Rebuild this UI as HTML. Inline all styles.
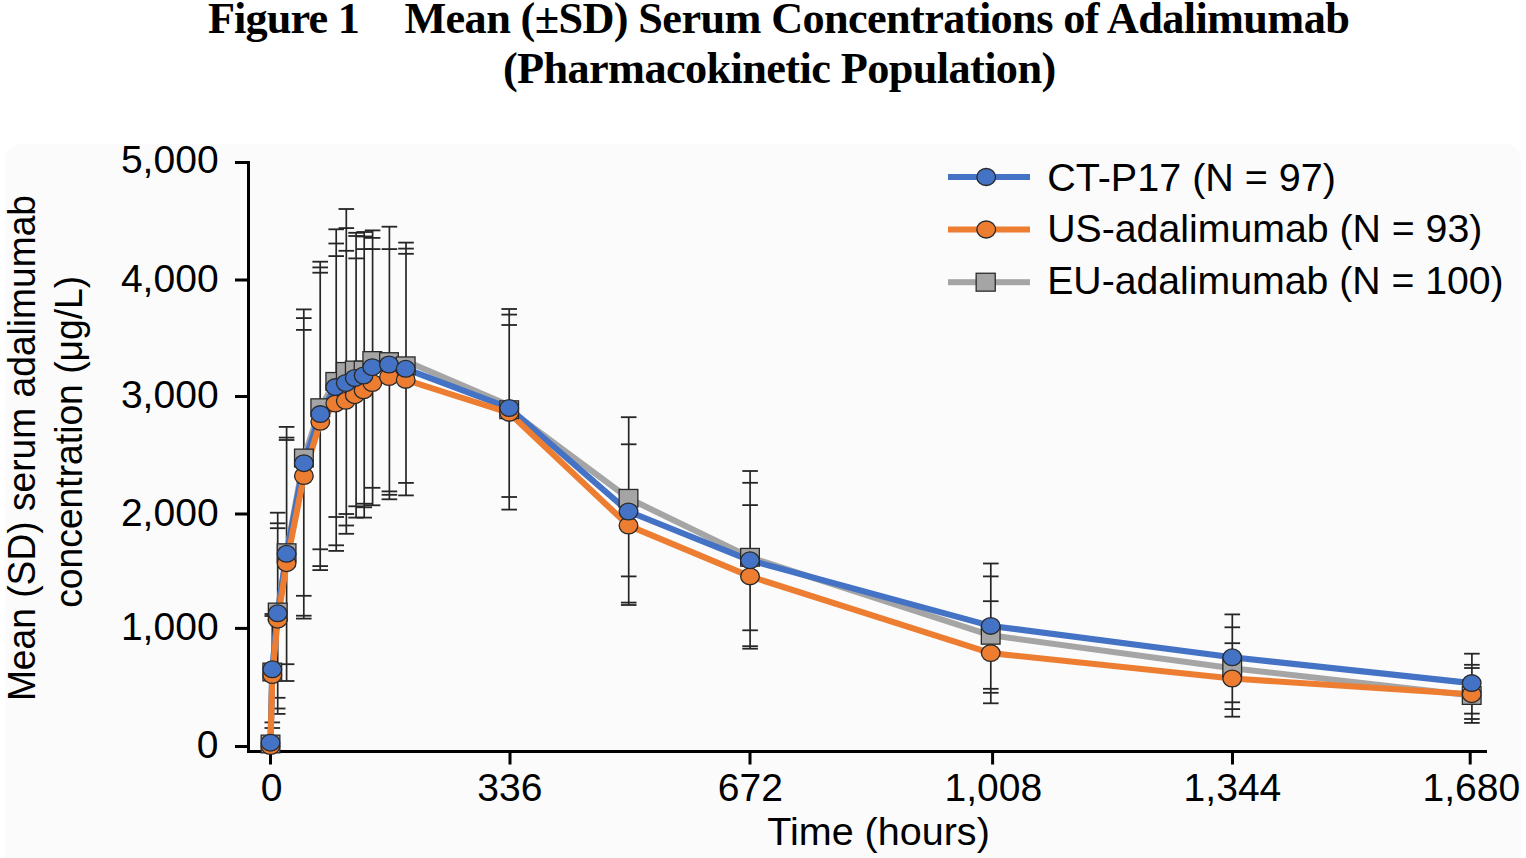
<!DOCTYPE html>
<html><head><meta charset="utf-8"><style>
html,body{margin:0;padding:0;background:#fff;width:1526px;height:858px;overflow:hidden}
svg{display:block}
text{fill:#000}
</style></head><body>
<svg width="1526" height="858" viewBox="0 0 1526 858">
<rect x="5" y="144" width="1516" height="760" rx="16" ry="16" fill="#fbfbfb"/>
<rect x="247" y="161" width="3" height="592" fill="#000"/>
<rect x="247" y="750" width="1240" height="3" fill="#000"/>
<rect x="235" y="161" width="13" height="3" fill="#000"/>
<rect x="235" y="278.5" width="13" height="3" fill="#000"/>
<rect x="235" y="395" width="13" height="3" fill="#000"/>
<rect x="235" y="512.5" width="13" height="3" fill="#000"/>
<rect x="235" y="626.9" width="13" height="3" fill="#000"/>
<rect x="235" y="745" width="13" height="3" fill="#000"/>
<rect x="269" y="752" width="3" height="12.5" fill="#000"/>
<rect x="508.5" y="752" width="3" height="12.5" fill="#000"/>
<rect x="748.5" y="752" width="3" height="12.5" fill="#000"/>
<rect x="991.1" y="752" width="3" height="12.5" fill="#000"/>
<rect x="1231" y="752" width="3" height="12.5" fill="#000"/>
<rect x="1468.7" y="752" width="3" height="12.5" fill="#000"/>
<rect x="271.45" y="614" width="1.7" height="114" fill="#262626"/>
<rect x="264.5" y="613.1" width="15.6" height="1.8" fill="#262626"/>
<rect x="264.5" y="615.1" width="15.6" height="1.8" fill="#262626"/>
<rect x="264.5" y="721.5" width="15.6" height="1.8" fill="#262626"/>
<rect x="264.5" y="727.1" width="15.6" height="1.8" fill="#262626"/>
<rect x="276.85" y="512.7" width="1.7" height="201.2" fill="#262626"/>
<rect x="269.9" y="511.8" width="15.6" height="1.8" fill="#262626"/>
<rect x="269.9" y="522.4" width="15.6" height="1.8" fill="#262626"/>
<rect x="269.9" y="527.3" width="15.6" height="1.8" fill="#262626"/>
<rect x="269.9" y="696.9" width="15.6" height="1.8" fill="#262626"/>
<rect x="269.9" y="707.6" width="15.6" height="1.8" fill="#262626"/>
<rect x="269.9" y="713" width="15.6" height="1.8" fill="#262626"/>
<rect x="285.75" y="426.9" width="1.7" height="254.1" fill="#262626"/>
<rect x="278.8" y="426" width="15.6" height="1.8" fill="#262626"/>
<rect x="278.8" y="436.7" width="15.6" height="1.8" fill="#262626"/>
<rect x="278.8" y="439.1" width="15.6" height="1.8" fill="#262626"/>
<rect x="278.8" y="663.3" width="15.6" height="1.8" fill="#262626"/>
<rect x="278.8" y="680.1" width="15.6" height="1.8" fill="#262626"/>
<rect x="302.95" y="309.4" width="1.7" height="309.2" fill="#262626"/>
<rect x="296" y="308.5" width="15.6" height="1.8" fill="#262626"/>
<rect x="296" y="317.2" width="15.6" height="1.8" fill="#262626"/>
<rect x="296" y="329" width="15.6" height="1.8" fill="#262626"/>
<rect x="296" y="594.9" width="15.6" height="1.8" fill="#262626"/>
<rect x="296" y="614.8" width="15.6" height="1.8" fill="#262626"/>
<rect x="296" y="617.7" width="15.6" height="1.8" fill="#262626"/>
<rect x="319.35" y="261.7" width="1.7" height="308.4" fill="#262626"/>
<rect x="312.4" y="260.8" width="15.6" height="1.8" fill="#262626"/>
<rect x="312.4" y="266.5" width="15.6" height="1.8" fill="#262626"/>
<rect x="312.4" y="271.8" width="15.6" height="1.8" fill="#262626"/>
<rect x="312.4" y="548.4" width="15.6" height="1.8" fill="#262626"/>
<rect x="312.4" y="565.2" width="15.6" height="1.8" fill="#262626"/>
<rect x="312.4" y="569.2" width="15.6" height="1.8" fill="#262626"/>
<rect x="335.35" y="229.3" width="1.7" height="321.6" fill="#262626"/>
<rect x="328.4" y="228.4" width="15.6" height="1.8" fill="#262626"/>
<rect x="328.4" y="242.6" width="15.6" height="1.8" fill="#262626"/>
<rect x="328.4" y="255.2" width="15.6" height="1.8" fill="#262626"/>
<rect x="328.4" y="516.1" width="15.6" height="1.8" fill="#262626"/>
<rect x="328.4" y="544.4" width="15.6" height="1.8" fill="#262626"/>
<rect x="328.4" y="550" width="15.6" height="1.8" fill="#262626"/>
<rect x="345.45" y="209" width="1.7" height="324.8" fill="#262626"/>
<rect x="338.5" y="208.1" width="15.6" height="1.8" fill="#262626"/>
<rect x="338.5" y="227.2" width="15.6" height="1.8" fill="#262626"/>
<rect x="338.5" y="249.9" width="15.6" height="1.8" fill="#262626"/>
<rect x="338.5" y="513.1" width="15.6" height="1.8" fill="#262626"/>
<rect x="338.5" y="524.6" width="15.6" height="1.8" fill="#262626"/>
<rect x="338.5" y="532.9" width="15.6" height="1.8" fill="#262626"/>
<rect x="355.25" y="232.8" width="1.7" height="284.8" fill="#262626"/>
<rect x="348.3" y="231.9" width="15.6" height="1.8" fill="#262626"/>
<rect x="348.3" y="235.1" width="15.6" height="1.8" fill="#262626"/>
<rect x="348.3" y="257.5" width="15.6" height="1.8" fill="#262626"/>
<rect x="348.3" y="505.4" width="15.6" height="1.8" fill="#262626"/>
<rect x="348.3" y="516.7" width="15.6" height="1.8" fill="#262626"/>
<rect x="363.35" y="232" width="1.7" height="285.6" fill="#262626"/>
<rect x="356.4" y="231.1" width="15.6" height="1.8" fill="#262626"/>
<rect x="356.4" y="235.6" width="15.6" height="1.8" fill="#262626"/>
<rect x="356.4" y="248.2" width="15.6" height="1.8" fill="#262626"/>
<rect x="356.4" y="502.8" width="15.6" height="1.8" fill="#262626"/>
<rect x="356.4" y="506.4" width="15.6" height="1.8" fill="#262626"/>
<rect x="356.4" y="516.7" width="15.6" height="1.8" fill="#262626"/>
<rect x="371.75" y="230.4" width="1.7" height="274.9" fill="#262626"/>
<rect x="364.8" y="229.5" width="15.6" height="1.8" fill="#262626"/>
<rect x="364.8" y="237" width="15.6" height="1.8" fill="#262626"/>
<rect x="364.8" y="248.2" width="15.6" height="1.8" fill="#262626"/>
<rect x="364.8" y="486.9" width="15.6" height="1.8" fill="#262626"/>
<rect x="364.8" y="504.4" width="15.6" height="1.8" fill="#262626"/>
<rect x="388.55" y="226.7" width="1.7" height="272.6" fill="#262626"/>
<rect x="381.6" y="225.8" width="15.6" height="1.8" fill="#262626"/>
<rect x="381.6" y="248.2" width="15.6" height="1.8" fill="#262626"/>
<rect x="381.6" y="490.5" width="15.6" height="1.8" fill="#262626"/>
<rect x="381.6" y="493.9" width="15.6" height="1.8" fill="#262626"/>
<rect x="381.6" y="498.4" width="15.6" height="1.8" fill="#262626"/>
<rect x="405.15" y="242.6" width="1.7" height="252.8" fill="#262626"/>
<rect x="398.2" y="241.7" width="15.6" height="1.8" fill="#262626"/>
<rect x="398.2" y="247.7" width="15.6" height="1.8" fill="#262626"/>
<rect x="398.2" y="252.9" width="15.6" height="1.8" fill="#262626"/>
<rect x="398.2" y="482" width="15.6" height="1.8" fill="#262626"/>
<rect x="398.2" y="494.5" width="15.6" height="1.8" fill="#262626"/>
<rect x="508.35" y="309" width="1.7" height="200.6" fill="#262626"/>
<rect x="501.4" y="308.1" width="15.6" height="1.8" fill="#262626"/>
<rect x="501.4" y="313.7" width="15.6" height="1.8" fill="#262626"/>
<rect x="501.4" y="324.1" width="15.6" height="1.8" fill="#262626"/>
<rect x="501.4" y="496.1" width="15.6" height="1.8" fill="#262626"/>
<rect x="501.4" y="508.7" width="15.6" height="1.8" fill="#262626"/>
<rect x="627.85" y="417.2" width="1.7" height="187.8" fill="#262626"/>
<rect x="620.9" y="416.3" width="15.6" height="1.8" fill="#262626"/>
<rect x="620.9" y="443.4" width="15.6" height="1.8" fill="#262626"/>
<rect x="620.9" y="575.5" width="15.6" height="1.8" fill="#262626"/>
<rect x="620.9" y="601.7" width="15.6" height="1.8" fill="#262626"/>
<rect x="620.9" y="604.1" width="15.6" height="1.8" fill="#262626"/>
<rect x="749.25" y="471" width="1.7" height="177.7" fill="#262626"/>
<rect x="742.3" y="470.1" width="15.6" height="1.8" fill="#262626"/>
<rect x="742.3" y="481.9" width="15.6" height="1.8" fill="#262626"/>
<rect x="742.3" y="504.2" width="15.6" height="1.8" fill="#262626"/>
<rect x="742.3" y="629.4" width="15.6" height="1.8" fill="#262626"/>
<rect x="742.3" y="645.3" width="15.6" height="1.8" fill="#262626"/>
<rect x="742.3" y="647.8" width="15.6" height="1.8" fill="#262626"/>
<rect x="989.95" y="563.5" width="1.7" height="139.8" fill="#262626"/>
<rect x="983" y="562.6" width="15.6" height="1.8" fill="#262626"/>
<rect x="983" y="575.5" width="15.6" height="1.8" fill="#262626"/>
<rect x="983" y="600.3" width="15.6" height="1.8" fill="#262626"/>
<rect x="983" y="687.9" width="15.6" height="1.8" fill="#262626"/>
<rect x="983" y="691.9" width="15.6" height="1.8" fill="#262626"/>
<rect x="983" y="702.4" width="15.6" height="1.8" fill="#262626"/>
<rect x="1231.45" y="614.4" width="1.7" height="102.3" fill="#262626"/>
<rect x="1224.5" y="613.5" width="15.6" height="1.8" fill="#262626"/>
<rect x="1224.5" y="626.4" width="15.6" height="1.8" fill="#262626"/>
<rect x="1224.5" y="642.3" width="15.6" height="1.8" fill="#262626"/>
<rect x="1224.5" y="701.4" width="15.6" height="1.8" fill="#262626"/>
<rect x="1224.5" y="708.2" width="15.6" height="1.8" fill="#262626"/>
<rect x="1224.5" y="715.8" width="15.6" height="1.8" fill="#262626"/>
<rect x="1471.05" y="653.7" width="1.7" height="69.2" fill="#262626"/>
<rect x="1464.1" y="652.8" width="15.6" height="1.8" fill="#262626"/>
<rect x="1464.1" y="663.9" width="15.6" height="1.8" fill="#262626"/>
<rect x="1464.1" y="667.1" width="15.6" height="1.8" fill="#262626"/>
<rect x="1464.1" y="712.7" width="15.6" height="1.8" fill="#262626"/>
<rect x="1464.1" y="718.1" width="15.6" height="1.8" fill="#262626"/>
<rect x="1464.1" y="722" width="15.6" height="1.8" fill="#262626"/>
<polyline points="270.5,744 272.3,672 277.7,612 286.6,552.7 303.9,458 320.3,407.7 335.3,381.4 345.8,371.4 354.8,370 363.6,370 372.3,360.5 389,361.6 405.7,361 509.2,405.5 509.2,409.7 628.5,498.3 750,557.3 990.7,635.3 1232.2,668.2 1471.7,695.5" fill="none" stroke="#a5a5a5" stroke-width="6.1" stroke-linejoin="round"/>
<polyline points="270.5,742.7 272.3,669.3 277.7,613.3 286.6,553.8 303.9,463.2 320.3,414.1 335.3,387.1 345.8,383 354.8,378 363.6,375.5 372.3,367.2 389,364.5 405.7,368.8 509.2,408 628.5,511.5 750,560.3 990.7,625.9 1232.2,657.3 1471.7,683.1" fill="none" stroke="#4472c4" stroke-width="6.1" stroke-linejoin="round"/>
<polyline points="270.5,746 272.3,675 277.7,619.7 286.6,563.2 303.9,476 320.3,421.8 335.3,403.6 345.8,400.8 354.8,395.2 363.6,390.3 372.3,383 389,377 405.7,379.9 509.2,412.9 628.5,525.6 750,576.4 990.7,653.1 1232.2,678.5 1471.7,694.2" fill="none" stroke="#ed7d31" stroke-width="6.1" stroke-linejoin="round"/>
<rect x="261.15" y="735.15" width="18.7" height="17.7" fill="#a5a5a5" stroke="#2a2a2a" stroke-width="1.3"/>
<rect x="262.95" y="663.15" width="18.7" height="17.7" fill="#a5a5a5" stroke="#2a2a2a" stroke-width="1.3"/>
<rect x="268.35" y="603.15" width="18.7" height="17.7" fill="#a5a5a5" stroke="#2a2a2a" stroke-width="1.3"/>
<rect x="277.25" y="543.85" width="18.7" height="17.7" fill="#a5a5a5" stroke="#2a2a2a" stroke-width="1.3"/>
<rect x="294.55" y="449.15" width="18.7" height="17.7" fill="#a5a5a5" stroke="#2a2a2a" stroke-width="1.3"/>
<rect x="310.95" y="398.85" width="18.7" height="17.7" fill="#a5a5a5" stroke="#2a2a2a" stroke-width="1.3"/>
<rect x="325.95" y="372.55" width="18.7" height="17.7" fill="#a5a5a5" stroke="#2a2a2a" stroke-width="1.3"/>
<rect x="336.45" y="362.55" width="18.7" height="17.7" fill="#a5a5a5" stroke="#2a2a2a" stroke-width="1.3"/>
<rect x="345.45" y="361.15" width="18.7" height="17.7" fill="#a5a5a5" stroke="#2a2a2a" stroke-width="1.3"/>
<rect x="354.25" y="361.15" width="18.7" height="17.7" fill="#a5a5a5" stroke="#2a2a2a" stroke-width="1.3"/>
<rect x="362.95" y="351.65" width="18.7" height="17.7" fill="#a5a5a5" stroke="#2a2a2a" stroke-width="1.3"/>
<rect x="379.65" y="352.75" width="18.7" height="17.7" fill="#a5a5a5" stroke="#2a2a2a" stroke-width="1.3"/>
<rect x="396.35" y="356.95" width="18.7" height="17.7" fill="#a5a5a5" stroke="#2a2a2a" stroke-width="1.3"/>
<rect x="499.85" y="400.85" width="18.7" height="17.7" fill="#a5a5a5" stroke="#2a2a2a" stroke-width="1.3"/>
<rect x="619.15" y="489.45" width="18.7" height="17.7" fill="#a5a5a5" stroke="#2a2a2a" stroke-width="1.3"/>
<rect x="740.65" y="548.45" width="18.7" height="17.7" fill="#a5a5a5" stroke="#2a2a2a" stroke-width="1.3"/>
<rect x="981.35" y="626.45" width="18.7" height="17.7" fill="#a5a5a5" stroke="#2a2a2a" stroke-width="1.3"/>
<rect x="1222.85" y="659.35" width="18.7" height="17.7" fill="#a5a5a5" stroke="#2a2a2a" stroke-width="1.3"/>
<rect x="1462.35" y="686.65" width="18.7" height="17.7" fill="#a5a5a5" stroke="#2a2a2a" stroke-width="1.3"/>
<ellipse cx="270.5" cy="746" rx="9.35" ry="8.35" fill="#ed7d31" stroke="#2a2a2a" stroke-width="1.3"/>
<ellipse cx="272.3" cy="675" rx="9.35" ry="8.35" fill="#ed7d31" stroke="#2a2a2a" stroke-width="1.3"/>
<ellipse cx="277.7" cy="619.7" rx="9.35" ry="8.35" fill="#ed7d31" stroke="#2a2a2a" stroke-width="1.3"/>
<ellipse cx="286.6" cy="563.2" rx="9.35" ry="8.35" fill="#ed7d31" stroke="#2a2a2a" stroke-width="1.3"/>
<ellipse cx="303.9" cy="476" rx="9.35" ry="8.35" fill="#ed7d31" stroke="#2a2a2a" stroke-width="1.3"/>
<ellipse cx="320.3" cy="421.8" rx="9.35" ry="8.35" fill="#ed7d31" stroke="#2a2a2a" stroke-width="1.3"/>
<ellipse cx="335.3" cy="403.6" rx="9.35" ry="8.35" fill="#ed7d31" stroke="#2a2a2a" stroke-width="1.3"/>
<ellipse cx="345.8" cy="400.8" rx="9.35" ry="8.35" fill="#ed7d31" stroke="#2a2a2a" stroke-width="1.3"/>
<ellipse cx="354.8" cy="395.2" rx="9.35" ry="8.35" fill="#ed7d31" stroke="#2a2a2a" stroke-width="1.3"/>
<ellipse cx="363.6" cy="390.3" rx="9.35" ry="8.35" fill="#ed7d31" stroke="#2a2a2a" stroke-width="1.3"/>
<ellipse cx="372.3" cy="383" rx="9.35" ry="8.35" fill="#ed7d31" stroke="#2a2a2a" stroke-width="1.3"/>
<ellipse cx="389" cy="377" rx="9.35" ry="8.35" fill="#ed7d31" stroke="#2a2a2a" stroke-width="1.3"/>
<ellipse cx="405.7" cy="379.9" rx="9.35" ry="8.35" fill="#ed7d31" stroke="#2a2a2a" stroke-width="1.3"/>
<ellipse cx="509.2" cy="412.9" rx="9.35" ry="8.35" fill="#ed7d31" stroke="#2a2a2a" stroke-width="1.3"/>
<ellipse cx="628.5" cy="525.6" rx="9.35" ry="8.35" fill="#ed7d31" stroke="#2a2a2a" stroke-width="1.3"/>
<ellipse cx="750" cy="576.4" rx="9.35" ry="8.35" fill="#ed7d31" stroke="#2a2a2a" stroke-width="1.3"/>
<ellipse cx="990.7" cy="653.1" rx="9.35" ry="8.35" fill="#ed7d31" stroke="#2a2a2a" stroke-width="1.3"/>
<ellipse cx="1232.2" cy="678.5" rx="9.35" ry="8.35" fill="#ed7d31" stroke="#2a2a2a" stroke-width="1.3"/>
<ellipse cx="1471.7" cy="694.2" rx="9.35" ry="8.35" fill="#ed7d31" stroke="#2a2a2a" stroke-width="1.3"/>
<ellipse cx="270.5" cy="742.7" rx="9.35" ry="8.35" fill="#4472c4" stroke="#2a2a2a" stroke-width="1.3"/>
<ellipse cx="272.3" cy="669.3" rx="9.35" ry="8.35" fill="#4472c4" stroke="#2a2a2a" stroke-width="1.3"/>
<ellipse cx="277.7" cy="613.3" rx="9.35" ry="8.35" fill="#4472c4" stroke="#2a2a2a" stroke-width="1.3"/>
<ellipse cx="286.6" cy="553.8" rx="9.35" ry="8.35" fill="#4472c4" stroke="#2a2a2a" stroke-width="1.3"/>
<ellipse cx="303.9" cy="463.2" rx="9.35" ry="8.35" fill="#4472c4" stroke="#2a2a2a" stroke-width="1.3"/>
<ellipse cx="320.3" cy="414.1" rx="9.35" ry="8.35" fill="#4472c4" stroke="#2a2a2a" stroke-width="1.3"/>
<ellipse cx="335.3" cy="387.1" rx="9.35" ry="8.35" fill="#4472c4" stroke="#2a2a2a" stroke-width="1.3"/>
<ellipse cx="345.8" cy="383" rx="9.35" ry="8.35" fill="#4472c4" stroke="#2a2a2a" stroke-width="1.3"/>
<ellipse cx="354.8" cy="378" rx="9.35" ry="8.35" fill="#4472c4" stroke="#2a2a2a" stroke-width="1.3"/>
<ellipse cx="363.6" cy="375.5" rx="9.35" ry="8.35" fill="#4472c4" stroke="#2a2a2a" stroke-width="1.3"/>
<ellipse cx="372.3" cy="367.2" rx="9.35" ry="8.35" fill="#4472c4" stroke="#2a2a2a" stroke-width="1.3"/>
<ellipse cx="389" cy="364.5" rx="9.35" ry="8.35" fill="#4472c4" stroke="#2a2a2a" stroke-width="1.3"/>
<ellipse cx="405.7" cy="368.8" rx="9.35" ry="8.35" fill="#4472c4" stroke="#2a2a2a" stroke-width="1.3"/>
<ellipse cx="509.2" cy="408" rx="9.35" ry="8.35" fill="#4472c4" stroke="#2a2a2a" stroke-width="1.3"/>
<ellipse cx="628.5" cy="511.5" rx="9.35" ry="8.35" fill="#4472c4" stroke="#2a2a2a" stroke-width="1.3"/>
<ellipse cx="750" cy="560.3" rx="9.35" ry="8.35" fill="#4472c4" stroke="#2a2a2a" stroke-width="1.3"/>
<ellipse cx="990.7" cy="625.9" rx="9.35" ry="8.35" fill="#4472c4" stroke="#2a2a2a" stroke-width="1.3"/>
<ellipse cx="1232.2" cy="657.3" rx="9.35" ry="8.35" fill="#4472c4" stroke="#2a2a2a" stroke-width="1.3"/>
<ellipse cx="1471.7" cy="683.1" rx="9.35" ry="8.35" fill="#4472c4" stroke="#2a2a2a" stroke-width="1.3"/>
<rect x="948" y="174" width="82" height="6" fill="#4472c4"/>
<ellipse cx="986.2" cy="177" rx="9.35" ry="8.5" fill="#4472c4" stroke="#2a2a2a" stroke-width="1.3"/>
<rect x="948" y="226.5" width="82" height="6" fill="#ed7d31"/>
<ellipse cx="986.2" cy="229.5" rx="9.35" ry="8.5" fill="#ed7d31" stroke="#2a2a2a" stroke-width="1.3"/>
<rect x="948" y="279.2" width="82" height="6" fill="#a5a5a5"/>
<rect x="976.15" y="273.25" width="19.1" height="17.9" fill="#a5a5a5" stroke="#2a2a2a" stroke-width="1.3"/>
<text transform="translate(207.9 33) scale(1.0000 1)" font-family="'Liberation Serif'" font-size="44.3" font-weight="bold" letter-spacing="-0.8571">Figure 1</text>
<text transform="translate(404.4 32.9) scale(1.0000 1)" font-family="'Liberation Serif'" font-size="44.3" font-weight="bold" letter-spacing="-0.6273">Mean (±SD) Serum Concentrations of Adalimumab</text>
<text transform="translate(502.9 82.6) scale(1.0000 1)" font-family="'Liberation Serif'" font-size="44.3" font-weight="bold" letter-spacing="-0.6074">(Pharmacokinetic Population)</text>
<text transform="translate(120.9 172.7) scale(1.0200 1)" font-family="'Liberation Sans'" font-size="38.3" >5,000</text>
<text transform="translate(120.9 292.4) scale(1.0200 1)" font-family="'Liberation Sans'" font-size="38.3" >4,000</text>
<text transform="translate(120.9 407.6) scale(1.0200 1)" font-family="'Liberation Sans'" font-size="38.3" >3,000</text>
<text transform="translate(120.9 525.8) scale(1.0200 1)" font-family="'Liberation Sans'" font-size="38.3" >2,000</text>
<text transform="translate(120.9 640.4) scale(1.0200 1)" font-family="'Liberation Sans'" font-size="38.3" >1,000</text>
<text transform="translate(196.8 757.8) scale(1.0200 1)" font-family="'Liberation Sans'" font-size="38.3" >0</text>
<text transform="translate(260.7 801.4) scale(1.0200 1)" font-family="'Liberation Sans'" font-size="38.3" >0</text>
<text transform="translate(477.35 801.4) scale(1.0200 1)" font-family="'Liberation Sans'" font-size="38.3" >336</text>
<text transform="translate(717.7 801.4) scale(1.0200 1)" font-family="'Liberation Sans'" font-size="38.3" >672</text>
<text transform="translate(944.5 801.4) scale(1.0200 1)" font-family="'Liberation Sans'" font-size="38.3" >1,008</text>
<text transform="translate(1183.6 801.4) scale(1.0200 1)" font-family="'Liberation Sans'" font-size="38.3" >1,344</text>
<text transform="translate(1422.5 801.4) scale(1.0200 1)" font-family="'Liberation Sans'" font-size="38.3" >1,680</text>
<text transform="translate(767.3 845) scale(1.0321 1)" font-family="'Liberation Sans'" font-size="38.3" >Time (hours)</text>
<text transform="translate(1047.2 190.8) scale(1.0320 1)" font-family="'Liberation Sans'" font-size="38.3" >CT-P17 (N = 97)</text>
<text transform="translate(1047.2 242) scale(1.0253 1)" font-family="'Liberation Sans'" font-size="38.3" >US-adalimumab (N = 93)</text>
<text transform="translate(1047.2 293.9) scale(1.0236 1)" font-family="'Liberation Sans'" font-size="38.3" >EU-adalimumab (N = 100)</text>
<text transform="translate(35 701.1) rotate(-90) scale(1 1.0400)" font-family="'Liberation Sans'" font-size="37.18" >Mean (SD) serum adalimumab</text>
<text transform="translate(82 607.8) rotate(-90) scale(1 1.0400)" font-family="'Liberation Sans'" font-size="37.26" >concentration (μg/L)</text>
</svg>
</body></html>
